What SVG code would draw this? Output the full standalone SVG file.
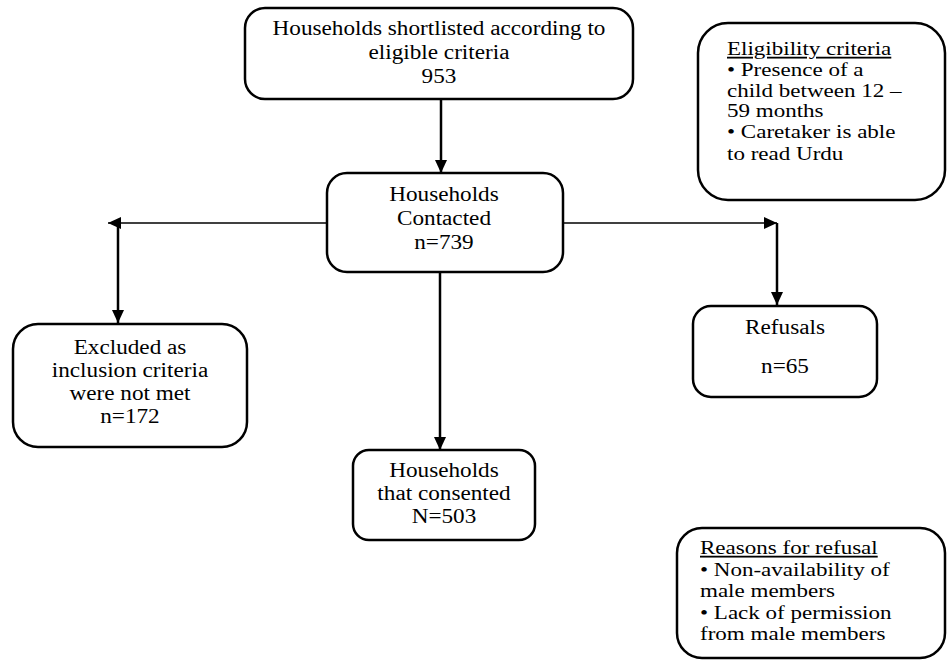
<svg xmlns="http://www.w3.org/2000/svg" width="947" height="661" viewBox="0 0 947 661">
  <style>
    .box { fill: #ffffff; stroke: #000000; stroke-width: 2.5; }
    .t { font-family: "Liberation Serif", "Times New Roman", serif; font-size: 20px; fill: #000000; text-anchor: middle; }
    .s { font-family: "Liberation Serif", "Times New Roman", serif; font-size: 18px; fill: #000000; text-anchor: start; }
    .u { text-decoration: underline; }
    .conn { fill: none; stroke: #000000; stroke-width: 2.5; marker-end: url(#arrow); }
    .thin { stroke-width: 1.5; }
  </style>
  <defs>
    <marker id="arrow" viewBox="0 0 13 12" refX="13" refY="6" markerWidth="13" markerHeight="12" markerUnits="userSpaceOnUse" orient="auto">
      <path d="M0,0 L13,6 L0,12 z" fill="#000000"/>
    </marker>
  </defs>
  <rect width="947" height="661" fill="#ffffff"/>

  <g id="connectors">
    <path class="conn" d="M441,99 L441,173"/>
    <path class="conn thin" d="M327,223 L108,223"/>
    <path class="conn" d="M118,223 L118,323"/>
    <path class="conn thin" d="M563,223 L777,223"/>
    <path class="conn" d="M777,223 L777,305"/>
    <path class="conn" d="M440,272 L440,450"/>
  </g>

  <g id="shortlisted">
    <rect class="box" x="245" y="8" width="388" height="91" rx="20" ry="20"/>
    <text class="t" transform="translate(439,35) scale(1.16,1)">Households shortlisted according to</text>
    <text class="t" transform="translate(439,59) scale(1.16,1)">eligible criteria</text>
    <text class="t" transform="translate(439,83) scale(1.16,1)">953</text>
  </g>

  <g id="contacted">
    <rect class="box" x="327" y="173" width="236" height="99" rx="20" ry="20"/>
    <text class="t" transform="translate(444,201) scale(1.16,1)">Households</text>
    <text class="t" transform="translate(444,225) scale(1.16,1)">Contacted</text>
    <text class="t" transform="translate(444,249) scale(1.16,1)">n=739</text>
  </g>

  <g id="excluded">
    <rect class="box" x="13" y="324" width="234" height="123" rx="25" ry="25"/>
    <text class="t" transform="translate(130,354) scale(1.16,1)">Excluded as</text>
    <text class="t" transform="translate(130,377) scale(1.16,1)">inclusion criteria</text>
    <text class="t" transform="translate(130,400) scale(1.16,1)">were not met</text>
    <text class="t" transform="translate(130,423) scale(1.16,1)">n=172</text>
  </g>

  <g id="refusals">
    <rect class="box" x="693" y="306" width="184" height="91" rx="18" ry="18"/>
    <text class="t" transform="translate(785,334) scale(1.16,1)">Refusals</text>
    <text class="t" transform="translate(785,373) scale(1.16,1)">n=65</text>
  </g>

  <g id="consented">
    <rect class="box" x="353" y="450" width="182" height="90" rx="16" ry="16"/>
    <text class="t" transform="translate(444,477) scale(1.16,1)">Households</text>
    <text class="t" transform="translate(444,500) scale(1.16,1)">that consented</text>
    <text class="t" transform="translate(444,523) scale(1.16,1)">N=503</text>
  </g>

  <g id="eligibility">
    <rect class="box" x="698" y="23" width="247" height="177" rx="30" ry="30"/>
    <text class="s u" transform="translate(727,55) scale(1.28,1)">Eligibility criteria</text>
    <text class="s" transform="translate(727,76) scale(1.28,1)">• Presence of a</text>
    <text class="s" transform="translate(727,97) scale(1.28,1)">child between 12 –</text>
    <text class="s" transform="translate(727,117) scale(1.28,1)">59 months</text>
    <text class="s" transform="translate(727,138) scale(1.28,1)">• Caretaker is able</text>
    <text class="s" transform="translate(727,160) scale(1.28,1)">to read Urdu</text>
  </g>

  <g id="reasons">
    <rect class="box" x="677" y="528" width="268" height="130" rx="25" ry="25"/>
    <text class="s u" transform="translate(700,554) scale(1.28,1)">Reasons for refusal</text>
    <text class="s" transform="translate(700,576) scale(1.28,1)">• Non-availability of</text>
    <text class="s" transform="translate(700,597) scale(1.28,1)">male members</text>
    <text class="s" transform="translate(700,619) scale(1.28,1)">• Lack of permission</text>
    <text class="s" transform="translate(700,640) scale(1.28,1)">from male members</text>
  </g>
</svg>
